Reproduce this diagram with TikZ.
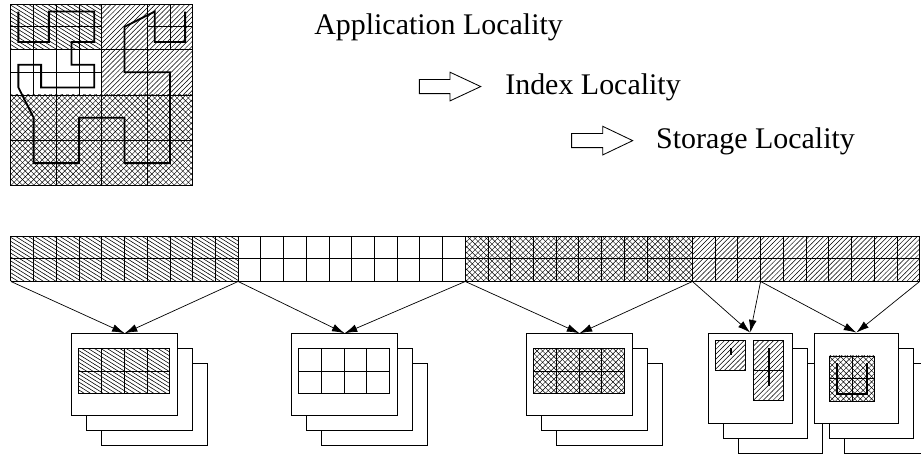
\documentclass[tikz,border=0pt]{standalone}
\usepackage{fontspec}
\setmainfont{Liberation Serif}
\usetikzlibrary{arrows.meta}
\usetikzlibrary{patterns}
\pgfdeclarepatternformonly{shallow lines}{\pgfqpoint{-1pt}{-1pt}}{\pgfqpoint{5.5pt}{3.8pt}}{\pgfqpoint{4.5pt}{2.8pt}}{
	\pgfsetlinewidth{0.4pt}
	\pgfpathmoveto{\pgfqpoint{-0.09pt}{2.856pt}}
	\pgfpathlineto{\pgfqpoint{4.59pt}{-0.056pt}}
	\pgfusepath{stroke}
}
\pgfdeclarepatternformonly{steep lines}{\pgfqpoint{-1pt}{-1pt}}{\pgfqpoint{4.5pt}{4.5pt}}{\pgfqpoint{3.5pt}{3.5pt}}{
	\pgfsetlinewidth{0.35pt}
	\pgfpathmoveto{\pgfqpoint{-0.1pt}{-0.1pt}}
	\pgfpathlineto{\pgfqpoint{3.6pt}{3.6pt}}
	\pgfusepath{stroke}
}
\pgfdeclarepatternformonly{light cross}{\pgfqpoint{-1pt}{-1pt}}{\pgfqpoint{5pt}{5pt}}{\pgfqpoint{4pt}{4pt}}{
	\pgfsetlinewidth{0.3pt}
	\pgfpathmoveto{\pgfqpoint{-0.1pt}{-0.1pt}}
	\pgfpathlineto{\pgfqpoint{4.1pt}{4.1pt}}
	\pgfpathmoveto{\pgfqpoint{-0.1pt}{4.1pt}}
	\pgfpathlineto{\pgfqpoint{4.1pt}{-0.1pt}}
	\pgfusepath{stroke}
}

\begin{document}
\begin{tikzpicture}[x = 0.568cm, y = -0.568cm]
	\tikzstyle{gridStyle} = [line width = 0.6pt]
	\tikzstyle{curveStyle} = [line width = 1.3pt, line join = miter]
	\tikzstyle{pageStyle} = [draw, fill = white, inner sep = 0pt, anchor = north west, line width = 0.6pt]
	\tikzstyle{wideStyle} = [pageStyle, minimum width = 2.658cm, minimum height = 2.045cm]
	\tikzstyle{tallStyle} = [pageStyle, minimum width = 2.085cm, minimum height = 2.266cm]
	\tikzstyle{labelStyle} = [anchor = base west, inner sep = 0pt, font = \fontsize{21.3}{25}\selectfont]
	\tikzstyle{linkStyle} = [-{Latex[length = 9pt, width = 5.5pt]}, line width = 0.5pt]
	\tikzstyle{blockStyle} = [line width = 0.6pt, line join = miter]
	\useasboundingbox (0,0) rectangle (40.54,20.03);
	\begin{scope}[shift = {(0.48,0.18)}]
		\fill[pattern = shallow lines] (0,0) rectangle (4,2);
		\fill[pattern = steep lines] (4,0) rectangle (8,4);
		\fill[pattern = light cross] (0,4) rectangle (8,8);
		\draw[gridStyle] (0,0) rectangle (8,8);
		\draw[gridStyle] (1,0) -- (1,4) (2,0) -- (2,8) (3,0) -- (3,4) (4,0) -- (4,8) (6,0) -- (6,8) (7,0) -- (7,2);
		\draw[gridStyle] (0,1) -- (4,1) (6,1) -- (8,1) (0,2) -- (8,2) (0,3) -- (4,3) (0,4) -- (8,4) (0,6) -- (8,6);
		\draw[curveStyle] (0.33,0.33) -- (0.33,1.67) -- (1.67,1.67) -- (1.67,0.33) -- (3.67,0.33) -- (3.67,1.67) -- (2.67,1.67) -- (2.67,2.67) -- (3.67,2.67) -- (3.67,3.67) -- (1.33,3.67) -- (1.33,2.67) -- (0.33,2.67) -- (0.33,3.67) -- (1,5) -- (1,7) -- (3,7) -- (3,5) -- (5,5) -- (5,7) -- (7,7) -- (7,3) -- (5,3) -- (5,1) -- (6.33,0.33) -- (6.33,1.67) -- (7.67,1.67) -- (7.67,0.33);
	\end{scope}
	\node[labelStyle] (appl) at (13.82,1.54) {Application Locality};
	\node[labelStyle] (indl) at (22.23,4.14) {Index Locality};
	\node[labelStyle] (stol) at (28.87,6.53) {Storage Locality};
	\draw[blockStyle] (18.46,3.50) -- (19.81,3.50) -- (19.81,3.18) -- (21.16,3.81) -- (19.81,4.44) -- (19.81,4.12) -- (18.46,4.12) -- cycle;
	\draw[blockStyle] (25.16,5.88) -- (26.53,5.88) -- (26.53,5.56) -- (27.85,6.19) -- (26.53,6.82) -- (26.53,6.50) -- (25.16,6.50) -- cycle;
	\begin{scope}[shift = {(0.48,10.39)}]
		\fill[pattern = shallow lines] (0,0) rectangle (10,2);
		\fill[pattern = light cross] (20,0) rectangle (30,2);
		\fill[pattern = steep lines] (30,0) rectangle (40,2);
		\foreach \i in {0,...,40}
			\draw[gridStyle] (\i,0) -- (\i,2);
		\draw[gridStyle] (0,0) -- (40,0) (0,1) -- (40,1) (0,2) -- (40,2);
		\coordinate (s0) at (0,2);
		\coordinate (s10) at (10,2);
		\coordinate (s20) at (20,2);
		\coordinate (s30) at (30,2);
		\coordinate (s33) at (33,2);
		\coordinate (s40) at (40,2);
	\end{scope}
	\node[wideStyle] (p1c) at (4.45,15.99) {};
	\node[wideStyle] (p1b) at (3.79,15.33) {};
	\node[wideStyle] (p1a) at (3.13,14.67) {};
	\node[wideStyle] (p2c) at (14.13,15.99) {};
	\node[wideStyle] (p2b) at (13.47,15.33) {};
	\node[wideStyle] (p2a) at (12.81,14.67) {};
	\node[wideStyle] (p3c) at (24.47,15.99) {};
	\node[wideStyle] (p3b) at (23.81,15.33) {};
	\node[wideStyle] (p3a) at (23.15,14.67) {};
	\node[tallStyle] (p4c) at (32.49,15.96) {};
	\node[tallStyle] (p4b) at (31.83,15.30) {};
	\node[tallStyle] (p4a) at (31.17,14.64) {};
	\node[tallStyle] (p5c) at (37.16,15.96) {};
	\node[tallStyle] (p5b) at (36.50,15.30) {};
	\node[tallStyle] (p5a) at (35.84,14.64) {};
	\begin{scope}[shift = {(3.47,15.33)}]
		\fill[pattern = shallow lines] (0,0) rectangle (4,2);
		\foreach \i in {0,...,4}
			\draw[gridStyle] (\i,0) -- (\i,2);
		\draw[gridStyle] (0,0) -- (4,0) (0,1) -- (4,1) (0,2) -- (4,2);
	\end{scope}
	\begin{scope}[shift = {(13.15,15.33)}]
		\foreach \i in {0,...,4}
			\draw[gridStyle] (\i,0) -- (\i,2);
		\draw[gridStyle] (0,0) -- (4,0) (0,1) -- (4,1) (0,2) -- (4,2);
	\end{scope}
	\begin{scope}[shift = {(23.49,15.33)}]
		\fill[pattern = light cross] (0,0) rectangle (4,2);
		\foreach \i in {0,...,4}
			\draw[gridStyle] (\i,0) -- (\i,2);
		\draw[gridStyle] (0,0) -- (4,0) (0,1) -- (4,1) (0,2) -- (4,2);
	\end{scope}
	\fill[pattern = steep lines] (31.51,15.00) rectangle (32.83,16.32);
	\draw[gridStyle] (31.51,15.00) rectangle (32.83,16.32);
	\draw[curveStyle] (32.17,15.33) -- (32.17,15.63);
	\fill[pattern = steep lines] (33.18,15.00) rectangle (34.50,17.64);
	\draw[gridStyle] (33.18,15.00) rectangle (34.50,17.64) (33.18,16.32) -- (34.50,16.32);
	\draw[curveStyle] (33.84,15.33) -- (33.84,16.99);
	\fill[pattern = light cross] (36.50,15.67) rectangle (38.50,17.67);
	\draw[gridStyle] (36.50,15.67) rectangle (38.50,17.67) (37.50,15.67) -- (37.50,17.67) (36.50,16.67) -- (38.50,16.67);
	\draw[curveStyle] (36.84,16.00) -- (36.84,17.33) -- (38.17,17.33) -- (38.17,16.00);
	\draw[linkStyle] (s0) -- (p1a.north);
	\draw[linkStyle] (s10) -- (p1a.north);
	\draw[linkStyle] (s10) -- (p2a.north);
	\draw[linkStyle] (s20) -- (p2a.north);
	\draw[linkStyle] (s20) -- (p3a.north);
	\draw[linkStyle] (s30) -- (p3a.north);
	\draw[linkStyle] (s30) -- (p4a.north);
	\draw[linkStyle] (s33) -- (p4a.north);
	\draw[linkStyle] (s33) -- (p5a.north);
	\draw[linkStyle] (s40) -- (p5a.north);
\end{tikzpicture}
\end{document}
